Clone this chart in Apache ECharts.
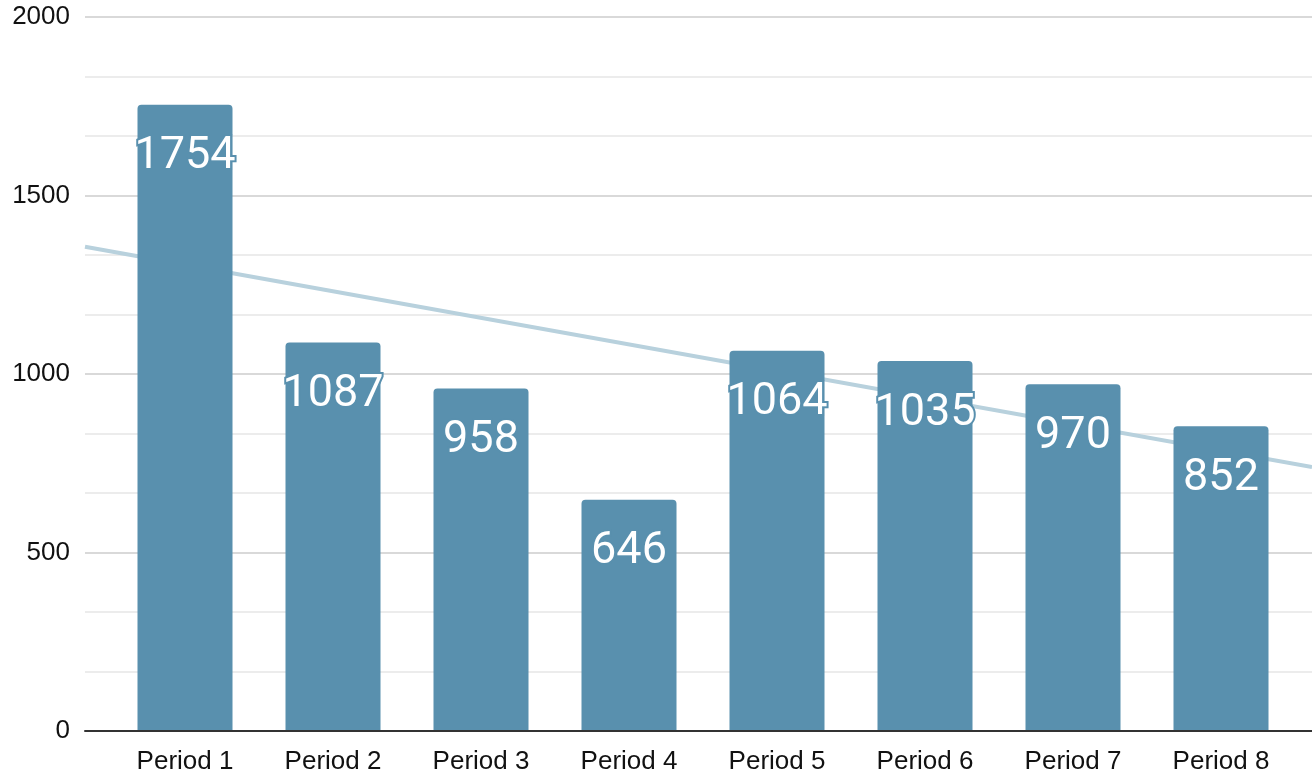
<!DOCTYPE html>
<html>
<head>
<meta charset="utf-8">
<script src="https://cdn.jsdelivr.net/npm/echarts@6/dist/echarts.min.js"></script>
<style>html,body{margin:0;padding:0;background:#fff}#c{width:1312px;height:775px}</style>
</head>
<body>
<div id="c"></div>
<script>
const categories = ['Period 1','Period 2','Period 3','Period 4','Period 5','Period 6','Period 7','Period 8'];
const values = [1754, 1087, 958, 646, 1064, 1035, 970, 852];
const yTicks = [0, 500, 1000, 1500, 2000];

// least-squares trendline over category index 1..n
const n = values.length;
const xs = values.map((_, i) => i + 1);
const mx = xs.reduce((a, b) => a + b, 0) / n;
const my = values.reduce((a, b) => a + b, 0) / n;
let sxy = 0, sxx = 0;
for (let i = 0; i < n; i++) { sxy += (xs[i] - mx) * (values[i] - my); sxx += (xs[i] - mx) ** 2; }
const slope = sxy / sxx, icpt = my - slope * mx;
const band = 148, firstCenter = 185, gLeft = 85, W = 1312;
const xMin = 1 - (firstCenter - gLeft) / band;
const xMax = 1 + (W - firstCenter) / band;
const trend = [[xMin, icpt + slope * xMin], [xMax, icpt + slope * xMax]];

const chart = echarts.init(document.getElementById('c'), null, {renderer: 'canvas'});
chart.setOption({
  animation: false,
  grid: [
    {left: 85, right: 0, top: 17, bottom: 44},
    {left: 111, right: 17, top: 17, bottom: 44}
  ],
  xAxis: [
    {type: 'value', gridIndex: 0, min: xMin, max: xMax,
     axisLine: {show: true, onZero: false, lineStyle: {color: '#333', width: 2}},
     axisTick: {show: false}, axisLabel: {show: false}, splitLine: {show: false}},
    {type: 'category', gridIndex: 1, data: categories,
     axisLine: {show: false}, axisTick: {show: false},
     axisLabel: {color: '#111', fontSize: 26, fontFamily: 'Liberation Sans, Arial, sans-serif', margin: 19}}
  ],
  yAxis: [
    {type: 'value', gridIndex: 0, min: yTicks[0], max: yTicks[yTicks.length-1], interval: 500,
     axisLine: {show: false}, axisTick: {show: false},
     axisLabel: {color: '#111', fontSize: 26, fontFamily: 'Liberation Sans, Arial, sans-serif', margin: 15,
       formatter: v => String(v)},
     splitLine: {lineStyle: {color: '#cccccc', width: 1.5}},
     minorTick: {show: false, splitNumber: 3},
     minorSplitLine: {show: true, lineStyle: {color: '#e6e6e6', width: 1.5}}},
    {type: 'value', gridIndex: 1, min: 0, max: 2000, show: false, splitLine: {show: false}}
  ],
  series: [
    {type: 'line', xAxisIndex: 0, yAxisIndex: 0, data: trend, symbol: 'none', z: 1,
     lineStyle: {color: '#b8d1dd', width: 4}, silent: true},
    {type: 'bar', xAxisIndex: 1, yAxisIndex: 1, data: values, barWidth: 95, z: 3,
     itemStyle: {color: '#5990ae', borderRadius: [4, 4, 0, 0]},
     label: {show: true, position: 'insideTop', distance: 30, color: '#fff',
       fontSize: 45, fontFamily: 'Roboto, sans-serif',
       textBorderColor: '#5990ae', textBorderWidth: 4}}
  ]
});
</script>
</body>
</html>
